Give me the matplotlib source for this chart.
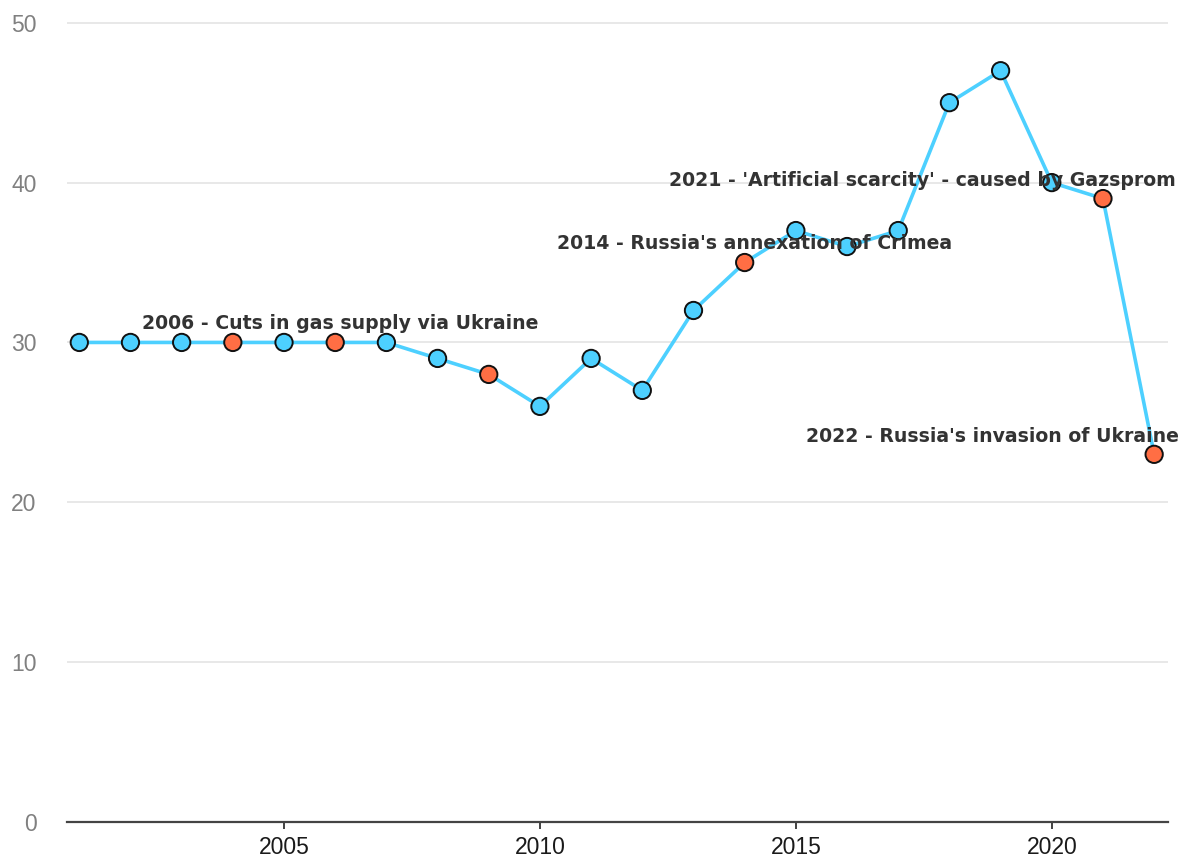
import matplotlib
matplotlib.use("Agg")
import matplotlib.pyplot as plt

# Annual values
years = list(range(2001, 2023))
values = [30, 30, 30, 30, 30, 30, 30, 29, 28, 26, 29, 27, 32, 35, 37, 36, 37, 45, 47, 40, 39, 23]
# Years marked as supply-crisis events
event_years = [2004, 2006, 2009, 2014, 2021, 2022]

# Event labels: text, x anchor, y anchor, horizontal alignment
label_texts = [
    "2006 - Cuts in gas supply via Ukraine",
    "2014 - Russia's annexation of Crimea",
    "2021 - 'Artificial scarcity' - caused by Gazsprom",
    "2022 - Russia's invasion of Ukraine",
]
label_x = [2006.1, 2014.2, 2022.42, 2022.48]
label_y = [31.2, 36.2, 40.1, 24.1]
label_ha = ["center", "center", "right", "right"]

y_ticks = [0, 10, 20, 30, 40, 50]
x_ticks = [2005, 2010, 2015, 2020]

line_color = "#4dd0ff"
event_color = "#ff6e44"

fig = plt.figure(figsize=(11.86, 8.61), dpi=100)
ax = fig.add_axes([0.0565, 0.0453, 0.9283, 0.932])

ax.plot(years, values, color=line_color, lw=2.6, zorder=2)
colors = [event_color if y in event_years else line_color for y in years]
ax.scatter(years, values, s=155, c=colors, edgecolors="#111111", linewidths=1.4, zorder=3)

for t, x, y, ha in zip(label_texts, label_x, label_y, label_ha):
    ax.text(x, y, t, ha=ha, va="center", fontsize=13.6, fontweight="bold",
            family="DejaVu Sans", color="#333333", zorder=4, clip_on=False)

ax.set_xlim(2000.76, 2022.27)
ax.set_ylim(0, 50.2)
ax.set_yticks(y_ticks)
ax.set_xticks(x_ticks)
ax.grid(axis="y", color="#e6e6e6", lw=1.3, zorder=0)
ax.set_axisbelow(True)

for side in ["left", "right", "top"]:
    ax.spines[side].set_visible(False)
ax.spines["bottom"].set_color("#444444")
ax.spines["bottom"].set_linewidth(1.6)

ax.tick_params(axis="y", length=0, pad=22, labelsize=16.5, labelcolor="#808080")
ax.tick_params(axis="x", length=5, width=1.3, color="#333333", pad=5,
               labelsize=16.5, labelcolor="#1a1a1a")
for lab in ax.get_xticklabels() + ax.get_yticklabels():
    lab.set_family("Liberation Sans")

fig.savefig("out.png", dpi=100, facecolor="white")
